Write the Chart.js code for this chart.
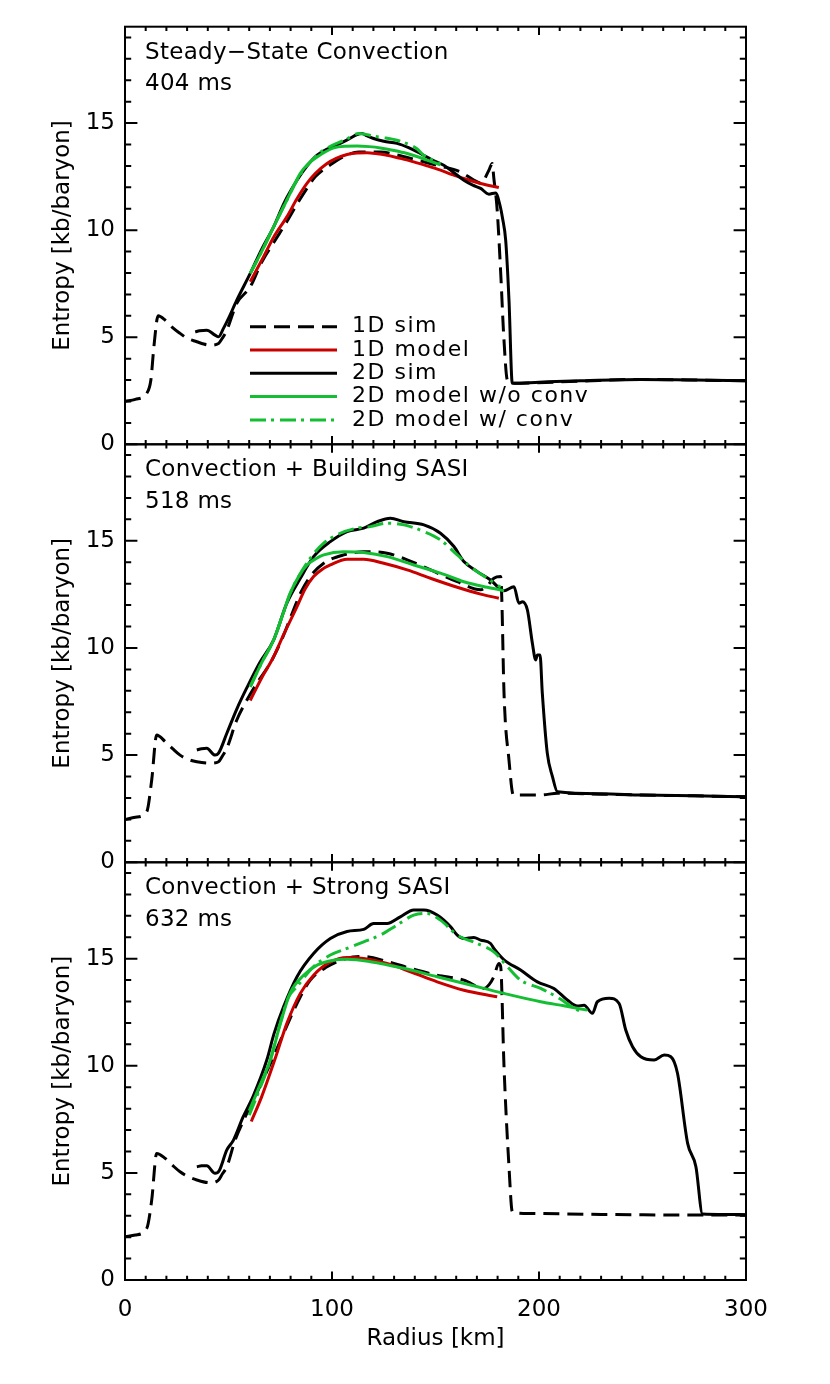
<!DOCTYPE html>
<html>
<head>
<meta charset="utf-8">
<script src="https://cdn.jsdelivr.net/npm/chart.js@4/dist/chart.umd.min.js"></script>
<style>
  html, body { margin: 0; padding: 0; background: #fff; }
  #wrap { position: relative; width: 830px; height: 1384px; }
  #wrap canvas { position: absolute; left: 0; top: 0; }
</style>
</head>
<body>
<div id="wrap">
  <canvas id="p404" width="830" height="1384"></canvas>
  <canvas id="p518" width="830" height="1384"></canvas>
  <canvas id="p632" width="830" height="1384"></canvas>
</div>
<script>
// axis ticks / labels
const xMajorTicks = [0, 100, 200, 300];
const yMajorTicks = [0, 5, 10, 15];
const seriesNames = ['1D sim', '1D model', '2D sim', '2D model w/o conv', '2D model w/ conv'];

// ---- 404 ms : Steady-State Convection ----
const r1dSim404 = [0, 5, 10.5, 12.5, 14, 16, 19.4, 23, 26.6, 30, 34.7, 38, 41.1, 45.2, 47, 49.2, 54, 60.5, 66, 72, 78.2, 83, 87.9, 92, 99.2, 106, 112.9, 123.4, 132, 141, 152, 162, 168.7, 172, 175.8, 177.4, 178.2, 179.8, 181.5, 183, 184.7, 187.9, 220, 249, 275, 300];
const s1dSim404 = [2.0, 2.1, 2.38, 3.0, 4.6, 6.0, 5.8, 5.45, 5.18, 4.95, 4.79, 4.68, 4.63, 4.71, 4.95, 5.33, 6.58, 7.35, 8.5, 9.45, 10.4, 11.2, 11.95, 12.5, 13.05, 13.45, 13.65, 13.65, 13.5, 13.27, 13.0, 12.72, 12.33, 12.2, 12.8, 13.11, 12.41, 10.93, 8.0, 5.0, 3.0, 2.85, 2.95, 3.03, 3.0, 2.97];
const r1dModel404 = [60.5, 66.9, 72, 78.2, 83, 87.9, 92, 97.6, 102, 107.3, 112, 116.9, 121, 126.6, 133, 139.5, 146, 152.4, 158, 163.7, 171.8, 180.6];
const s1dModel404 = [7.59, 8.75, 9.7, 10.62, 11.45, 12.18, 12.65, 13.11, 13.35, 13.53, 13.6, 13.61, 13.58, 13.5, 13.35, 13.19, 13.0, 12.8, 12.6, 12.41, 12.18, 11.99];
const r2dSim404 = [33.9, 36, 39.5, 43.5, 45.2, 47.5, 50, 54, 60.5, 66, 71.8, 77, 83.1, 88, 92.8, 98, 104, 108, 112.1, 114.5, 117, 120.1, 125, 131.4, 137, 142.7, 148, 154, 158, 163.7, 168, 171.8, 175.8, 179, 181.5, 182.3, 183.9, 185.5, 187.1, 200, 220, 249, 275, 300];
const s2dSim404 = [5.25, 5.3, 5.33, 5.1, 5.02, 5.4, 5.88, 6.73, 7.98, 9.1, 10.15, 11.3, 12.33, 13.0, 13.5, 13.8, 14.05, 14.25, 14.46, 14.51, 14.4, 14.28, 14.15, 14.05, 13.85, 13.58, 13.3, 13.03, 12.75, 12.33, 12.1, 11.95, 11.68, 11.74, 11.01, 10.6, 9.53, 6.73, 2.85, 2.9, 2.97, 3.03, 3.0, 2.97];
const r2dNoConv404 = [60.5, 66, 71.8, 78.2, 84.7, 88.5, 92.8, 100.8, 106, 112.1, 118, 123.4, 130, 136.3, 141, 146, 152.4];
const s2dNoConv404 = [7.98, 9.0, 10.15, 11.4, 12.65, 13.1, 13.42, 13.84, 13.92, 13.93, 13.9, 13.84, 13.72, 13.58, 13.44, 13.27, 13.05];
const r2dConv404 = [60.5, 66, 71.8, 78.2, 84.7, 92.8, 98, 104, 108, 112.9, 116, 120.1, 126, 131.4, 137.9, 141, 144.3, 148, 152.4];
const s2dConv404 = [7.98, 9.0, 10.15, 11.4, 12.6, 13.5, 13.85, 14.12, 14.3, 14.51, 14.48, 14.39, 14.3, 14.2, 13.97, 13.8, 13.5, 13.3, 13.11];

// ---- 518 ms : Convection + Building SASI ----
const r1dSim518 = [0, 5, 10.5, 12.9, 15.3, 19.4, 23, 26.6, 30, 34.7, 41.1, 45.2, 47, 49.2, 54, 58.9, 63.7, 70.2, 76, 81.4, 85, 89.5, 96, 105.6, 115.3, 126.6, 136.3, 147.6, 160.5, 171.8, 175, 178.2, 181.5, 182, 183.1, 185.5, 187.6, 200.8, 209, 230, 249.2, 275, 300];
const s1dSim518 = [2.0, 2.1, 2.36, 3.84, 5.94, 5.63, 5.3, 5.0, 4.82, 4.69, 4.62, 4.69, 4.95, 5.32, 6.64, 7.57, 8.35, 9.3, 10.45, 11.77, 12.6, 13.33, 13.95, 14.34, 14.49, 14.42, 14.11, 13.64, 13.09, 12.71, 12.9, 13.25, 13.33, 12.4, 7.89, 4.77, 3.14, 3.14, 3.22, 3.18, 3.14, 3.1, 3.06];
const r1dModel518 = [60.5, 66, 71.8, 77, 83.1, 87, 91.1, 95, 99.2, 107.3, 115.3, 125, 136.3, 147.6, 160.5, 171.8, 180.6];
const s1dModel518 = [7.55, 8.6, 9.59, 10.7, 11.93, 12.75, 13.33, 13.65, 13.87, 14.14, 14.14, 13.95, 13.64, 13.25, 12.83, 12.51, 12.32];
const r2dSim518 = [34.7, 37, 39.5, 43.5, 45.2, 49.2, 54, 58.9, 65, 71.8, 78.2, 84.7, 91.1, 99.2, 107.3, 115.3, 121.8, 128.2, 134.7, 144.4, 152.4, 158.9, 163.7, 170.2, 176.6, 183.1, 187.9, 190.3, 192, 194.4, 196.8, 198.4, 199.2, 200.5, 201.6, 204, 206.5, 208.9, 230, 249.2, 275, 300];
const s2dSim518 = [5.24, 5.3, 5.32, 5.0, 5.09, 6.02, 7.15, 8.15, 9.3, 10.37, 12.09, 13.25, 14.26, 14.96, 15.43, 15.59, 15.89, 16.05, 15.89, 15.74, 15.35, 14.73, 14.03, 13.56, 13.17, 12.67, 12.86, 12.09, 12.16, 11.77, 10.22, 9.44, 9.67, 9.67, 7.89, 5.09, 4.0, 3.29, 3.2, 3.14, 3.1, 3.06];
const r2dNoConv518 = [60.5, 66, 71.8, 76, 79.8, 84, 87.9, 92, 96, 105.6, 115.3, 126.6, 139.5, 152.4, 163.7, 175, 183.1];
const s2dNoConv518 = [8.19, 9.3, 10.37, 11.5, 12.55, 13.35, 13.87, 14.15, 14.34, 14.49, 14.45, 14.26, 13.87, 13.49, 13.09, 12.83, 12.67];
const r2dConv518 = [60.5, 66, 71.8, 76, 79.8, 84, 89.5, 96, 104, 112.1, 118.5, 126.6, 134.7, 144.4, 152.4, 160.5, 166.9, 175, 181.5];
const s2dConv518 = [8.19, 9.3, 10.37, 11.5, 12.55, 13.35, 14.19, 14.89, 15.35, 15.59, 15.66, 15.82, 15.74, 15.43, 15.04, 14.34, 13.79, 13.25, 12.83];

// ---- 632 ms : Convection + Strong SASI ----
const r1dSim632 = [0, 5, 10.5, 12.9, 15.3, 19.4, 23, 26.6, 30, 34.7, 41.1, 45.2, 47, 49.2, 53.2, 58, 64, 71, 77, 83.1, 89.5, 97.6, 107.3, 115.3, 126.6, 137.9, 150.8, 163.7, 173.4, 176, 178.2, 180.6, 181.5, 183.1, 185.5, 187.1, 192.7, 230, 278.2, 300];
const s1dSim632 = [2.02, 2.1, 2.41, 3.73, 5.91, 5.68, 5.35, 5.05, 4.85, 4.67, 4.54, 4.67, 4.95, 5.29, 6.53, 7.6, 8.8, 10.27, 11.6, 12.91, 14.0, 14.62, 15.02, 15.1, 14.87, 14.55, 14.23, 14.0, 13.61, 13.8, 14.16, 14.78, 14.62, 9.95, 5.29, 3.19, 3.11, 3.06, 3.03, 3.03];
const r1dModel632 = [61, 66, 72.6, 78.2, 84.7, 91.1, 99.2, 107.3, 115.3, 126.6, 137.9, 150.8, 163.7, 179.8];
const s1dModel632 = [7.4, 8.55, 10.35, 11.98, 13.38, 14.23, 14.85, 15.06, 15.01, 14.78, 14.39, 13.92, 13.53, 13.22];
const r2dSim632 = [34.7, 37, 39.5, 43.5, 45.5, 49.2, 52.4, 57, 62, 68.5, 72, 76.6, 83.1, 91.1, 99.2, 107.3, 115.3, 120.1, 126.6, 133, 139.5, 144.4, 150.8, 157.3, 160.5, 163.7, 168.5, 171.8, 176.6, 178.2, 183.1, 191.1, 199.2, 207.2, 213.7, 218.5, 221.8, 225.8, 228.2, 233.9, 238.7, 241.9, 245.2, 249.2, 255.6, 260.5, 263.7, 266.9, 271.8, 275.8, 279, 290, 300];
const s2dSim632 = [5.29, 5.33, 5.33, 4.98, 5.1, 6.07, 6.53, 7.6, 8.6, 10.27, 11.5, 12.75, 14.16, 15.24, 15.94, 16.27, 16.37, 16.64, 16.64, 16.95, 17.27, 17.27, 17.04, 16.49, 16.1, 15.94, 15.99, 15.87, 15.71, 15.48, 14.95, 14.47, 13.92, 13.61, 13.07, 12.79, 12.83, 12.45, 12.99, 13.15, 12.91, 11.67, 10.89, 10.42, 10.27, 10.5, 10.42, 9.65, 6.38, 5.29, 3.08, 3.06, 3.05];
const r2dNoConv632 = [60, 65, 70.2, 75, 79.8, 86.3, 92.8, 100.8, 107.3, 118.5, 134.7, 150.8, 166.9, 183.1, 200.8, 212, 223.4];
const s2dNoConv632 = [7.9, 9.05, 10.27, 11.95, 13.4, 14.23, 14.7, 14.93, 14.97, 14.86, 14.55, 14.16, 13.77, 13.38, 12.99, 12.8, 12.6];
const r2dConv632 = [60, 65, 70, 75, 79, 83.1, 91.1, 99.2, 107.3, 115.3, 123.4, 131.4, 139.5, 146, 152.4, 160.5, 170.2, 178.2, 184.7, 191.1, 200.8, 208.9, 216.9, 220.2];
const s2dConv632 = [7.7, 8.9, 10.2, 12.0, 13.2, 13.7, 14.63, 15.17, 15.48, 15.79, 16.1, 16.57, 17.03, 17.11, 16.8, 16.1, 15.71, 15.32, 14.63, 14.0, 13.61, 13.2, 12.69, 12.53];

const RED = 'rgb(200,0,0)';
const GREEN = 'rgb(20,190,50)';

Chart.defaults.font.family = '"DejaVu Sans"';
Chart.defaults.font.size = 23;
Chart.defaults.color = '#000';

function series(i, rs, ss, style) {
  return Object.assign({
    label: seriesNames[i],
    data: rs.map((r, k) => ({ x: r, y: ss[k] })),
    pointRadius: 0,
    borderWidth: 3,
    fill: false,
    cubicInterpolationMode: 'monotone'
  }, style);
}

const styles = [
  { borderColor: '#000', borderDash: [16, 8], order: 5 },
  { borderColor: RED, order: 4 },
  { borderColor: '#000', order: 3 },
  { borderColor: GREEN, order: 2 },
  { borderColor: GREEN, borderDash: [16, 5, 3, 6], order: 1 }
];

// frame, inward ticks, panel caption, legend
const panelDeco = {
  id: 'panelDeco',
  afterDatasetsDraw(chart, args, opts) {
    const { ctx, chartArea: a, scales: { x, y } } = chart;
    ctx.save();
    ctx.setLineDash([]);
    ctx.strokeStyle = '#000';
    ctx.lineWidth = 2;
    ctx.strokeRect(a.left, a.top, a.width, a.height);
    ctx.beginPath();
    for (let v = 0; v <= 300; v += 10) {
      const px = x.getPixelForValue(v);
      const len = xMajorTicks.includes(v) ? 8.4 : 4.2;
      ctx.moveTo(px, a.bottom); ctx.lineTo(px, a.bottom - len);
      ctx.moveTo(px, a.top); ctx.lineTo(px, a.top + len);
    }
    for (let v = 0; v <= 19; v += 1) {
      const py = y.getPixelForValue(v);
      const len = yMajorTicks.includes(v) ? 12.4 : 6.2;
      ctx.moveTo(a.left, py); ctx.lineTo(a.left + len, py);
      ctx.moveTo(a.right, py); ctx.lineTo(a.right - len, py);
    }
    ctx.stroke();

    ctx.fillStyle = '#000';
    ctx.font = '23px "DejaVu Sans"';
    ctx.letterSpacing = '0.3px';
    ctx.textBaseline = 'middle';
    ctx.textAlign = 'left';
    opts.lines.forEach((t, i) => ctx.fillText(t, a.left + 20, a.top + 26 + i * 31.3));

    if (opts.legend) {
      ctx.font = '22px "DejaVu Sans"';
      ctx.letterSpacing = '1.5px';
      chart.data.datasets.forEach((ds, i) => {
        const ly = a.top + 300 + i * 23.3;
        ctx.strokeStyle = ds.borderColor;
        ctx.lineWidth = ds.borderWidth;
        ctx.setLineDash(ds.borderDash || []);
        ctx.beginPath();
        ctx.moveTo(a.left + 125, ly);
        ctx.lineTo(a.left + 212, ly);
        ctx.stroke();
        ctx.fillText(ds.label, a.left + 227, ly);
      });
    }
    ctx.restore();
  }
};

function makePanel(id, padTop, padBottom, showX, lines, legend, sets) {
  const xScale = {
    type: 'linear', min: 0, max: 300, display: showX,
    grid: { display: false, drawTicks: false },
    border: { display: false },
    ticks: { stepSize: 100, padding: 16 },
    title: { display: true, text: 'Radius [km]', padding: { top: 0, bottom: 7 } }
  };
  if (showX) xScale.afterFit = s => { s.height = 80; };
  new Chart(document.getElementById(id), {
    type: 'line',
    data: { datasets: sets },
    options: {
      responsive: false,
      animation: false,
      devicePixelRatio: 1,
      layout: { padding: { left: 0, right: 84, top: padTop, bottom: padBottom } },
      plugins: {
        legend: { display: false },
        tooltip: { enabled: false },
        panelDeco: { lines, legend }
      },
      scales: {
        x: xScale,
        y: {
          type: 'linear', min: 0, max: 19.5,
          grid: { display: false, drawTicks: false },
          border: { display: false },
          ticks: { stepSize: 5, includeBounds: false, padding: 10 },
          title: { display: true, text: 'Entropy [kb/baryon]', padding: { top: 49, bottom: 0 } },
          afterFit: s => { s.width = 125; }
        }
      }
    },
    plugins: [panelDeco]
  });
}

makePanel('p404', 26.7, 1384 - 444.3, false, ['Steady\u2212State Convection', '404 ms'], true, [
  series(0, r1dSim404, s1dSim404, styles[0]),
  series(1, r1dModel404, s1dModel404, styles[1]),
  series(2, r2dSim404, s2dSim404, styles[2]),
  series(3, r2dNoConv404, s2dNoConv404, styles[3]),
  series(4, r2dConv404, s2dConv404, styles[4])
]);

makePanel('p518', 444.3, 1384 - 862.3, false, ['Convection + Building SASI', '518 ms'], false, [
  series(0, r1dSim518, s1dSim518, styles[0]),
  series(1, r1dModel518, s1dModel518, styles[1]),
  series(2, r2dSim518, s2dSim518, styles[2]),
  series(3, r2dNoConv518, s2dNoConv518, styles[3]),
  series(4, r2dConv518, s2dConv518, styles[4])
]);

makePanel('p632', 862.3, 1384 - 1280 - 80, true, ['Convection + Strong SASI', '632 ms'], false, [
  series(0, r1dSim632, s1dSim632, styles[0]),
  series(1, r1dModel632, s1dModel632, styles[1]),
  series(2, r2dSim632, s2dSim632, styles[2]),
  series(3, r2dNoConv632, s2dNoConv632, styles[3]),
  series(4, r2dConv632, s2dConv632, styles[4])
]);
</script>
</body>
</html>
